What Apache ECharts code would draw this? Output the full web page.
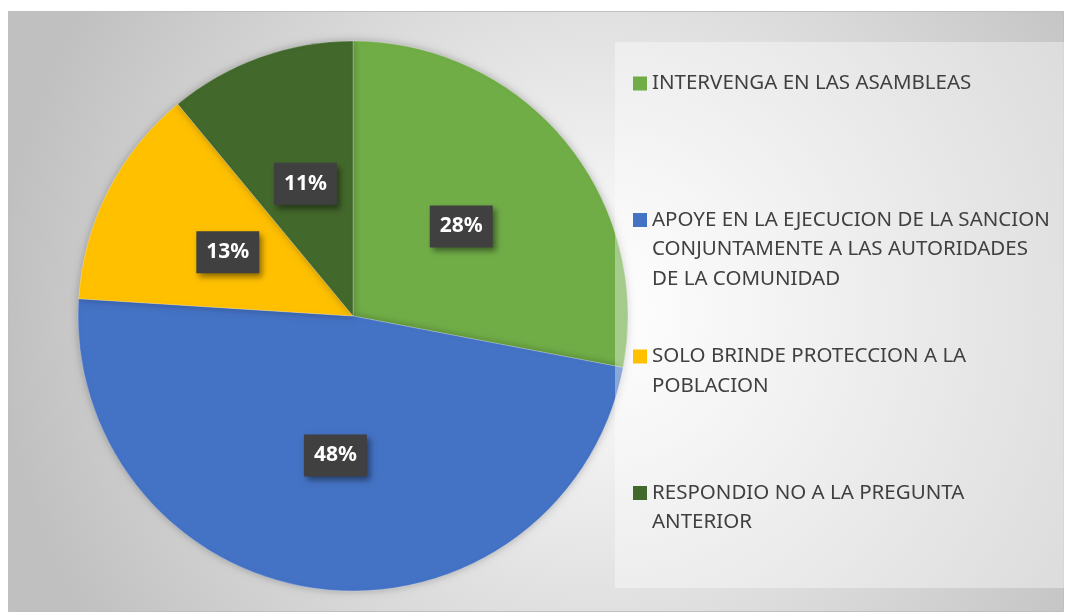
<!DOCTYPE html>
<html>
<head>
<meta charset="utf-8">
<script src="https://cdn.jsdelivr.net/npm/echarts@6/dist/echarts.min.js"></script>
<style>
  html, body { margin: 0; padding: 0; background: #fff; }
  #pie { width: 1065px; height: 613px; }
</style>
</head>
<body>
<div id="pie"></div>
<script>
// categories, values and how each legend entry wraps
var categories = [
  'INTERVENGA EN LAS ASAMBLEAS',
  'APOYE EN LA EJECUCION DE LA SANCION CONJUNTAMENTE A LAS AUTORIDADES DE LA COMUNIDAD',
  'SOLO BRINDE PROTECCION A LA POBLACION',
  'RESPONDIO NO A LA PREGUNTA ANTERIOR'
];
var values = [28, 48, 13, 11];
var legendLines = [
  ['INTERVENGA EN LAS ASAMBLEAS'],
  ['APOYE EN LA EJECUCION DE LA SANCION', 'CONJUNTAMENTE A LAS AUTORIDADES', 'DE LA COMUNIDAD'],
  ['SOLO BRINDE PROTECCION A LA', 'POBLACION'],
  ['RESPONDIO NO A LA PREGUNTA', 'ANTERIOR']
];
var colors = ['#70ad47', '#4472c4', '#ffc000', '#43682b'];

var myChart = echarts.init(document.getElementById('pie'));

var FONT = '"Noto Sans", sans-serif';
var legendTop = [73, 209.5, 346, 482.5];

// one legend per entry so the rows sit where the original has them
var legends = categories.map(function (name, i) {
  var rich = {
    sq: { width: 14, height: 14, backgroundColor: colors[i] },
    gap: { width: 5 },
    ind: { width: 19 },
    t: { color: '#404040', fontSize: 20.5, lineHeight: 29.5, fontFamily: FONT }
  };
  return {
    data: [name],
    left: 627,
    top: legendTop[i],
    padding: 0,
    icon: 'rect',
    itemWidth: 0,
    itemHeight: 0,
    selectedMode: false,
    z: 200,
    textStyle: { rich: rich },
    formatter: function () {
      return legendLines[i].map(function (line, k) {
        return (k === 0 ? '{sq|}{gap|}' : '{ind|}') + '{t|' + line + '}';
      }).join('\n');
    }
  };
});

var option = {
  animation: false,
  color: colors,
  graphic: [
    {
      type: 'rect',
      z: -10,
      shape: { x: 8.5, y: 11.5, width: 1055, height: 600 },
      style: {
        stroke: '#bfbfbf',
        lineWidth: 1,
        fill: {
          type: 'radial', x: 0.56, y: 0.5, r: 1,
          colorStops: [
            { offset: 0, color: '#ffffff' },
            { offset: 0.5, color: '#e0e0e0' },
            { offset: 1, color: '#c0c0c0' }
          ]
        }
      }
    },
    {
      // light panel behind the legend
      type: 'rect',
      z: 100,
      shape: { x: 615, y: 42, width: 449, height: 546 },
      style: { fill: 'rgba(255,255,255,0.38)' }
    }
  ],
  legend: legends,
  series: [
    {
      type: 'pie',
      center: [353, 316],
      radius: 275,
      startAngle: 90,
      clockwise: true,
      data: categories.map(function (c, i) { return { name: c, value: values[i] }; }),
      itemStyle: {
        borderColor: 'rgba(255,255,255,0.25)',
        borderWidth: 1,
        shadowBlur: 8,
        shadowColor: 'rgba(0,0,0,0.25)'
      },
      label: {
        show: true,
        position: 'inside',
        formatter: '{d}%',
        color: '#ffffff',
        fontSize: 21,
        fontWeight: 'bold',
        fontFamily: FONT,
        lineHeight: 22,
        backgroundColor: '#404040',
        padding: [10, 10, 10, 10],
        shadowBlur: 6,
        shadowOffsetX: 3,
        shadowOffsetY: 4,
        shadowColor: 'rgba(0,0,0,0.45)'
      },
      labelLine: { show: false },
      emphasis: { disabled: true }
    }
  ]
};

myChart.setOption(option);
window.addEventListener('resize', function () {
  myChart.resize();
});
</script>
</body>
</html>
